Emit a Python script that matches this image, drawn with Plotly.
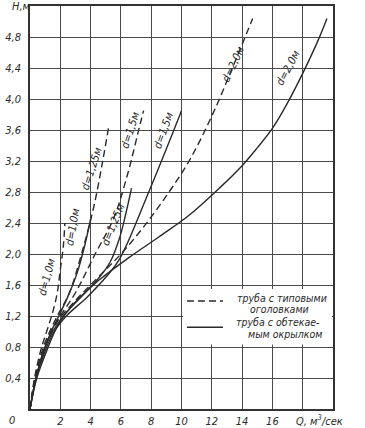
import plotly.graph_objects as go

# ---- data (Q, m3/s ; H, m) ----
d10_dash_Q = [0, 0.3, 0.7, 1.1, 1.5, 1.8, 2.0, 2.2, 2.3]
d10_dash_H = [0, 0.4, 0.75, 1.0, 1.25, 1.5, 1.8, 2.1, 2.4]
d10_sol_Q = [0, 0.4, 0.9, 1.4, 1.9, 2.5, 3.1, 3.6, 4.0]
d10_sol_H = [0, 0.4, 0.75, 1.0, 1.2, 1.45, 1.75, 2.1, 2.45]
d125_dash_Q = [0, 0.35, 0.8, 1.3, 1.8, 2.6, 3.4, 4.2, 4.8, 5.2]
d125_dash_H = [0, 0.4, 0.75, 1.0, 1.2, 1.5, 2.0, 2.6, 3.2, 3.65]
d125_sol_Q = [0, 0.4, 0.9, 1.5, 2.2, 3.4, 4.5, 5.3, 5.9, 6.3, 6.7]
d125_sol_H = [0, 0.4, 0.75, 1.0, 1.2, 1.45, 1.68, 1.9, 2.2, 2.5, 2.85]
d15_dash_Q = [0, 0.35, 0.9, 1.4, 2.0, 3.0, 4.3, 5.5, 6.4, 7.3, 7.5]
d15_dash_H = [0, 0.4, 0.75, 1.0, 1.2, 1.5, 2.0, 2.45, 3.0, 3.7, 3.85]
d15_sol_Q = [0, 0.4, 1.0, 1.6, 2.4, 3.8, 5.0, 5.9, 7.9, 9.7, 10.0]
d15_sol_H = [0, 0.4, 0.75, 1.0, 1.2, 1.45, 1.7, 1.93, 2.83, 3.7, 3.85]
d20_dash_Q = [0, 0.4, 1.0, 1.7, 3.0, 4.5, 6.0, 7.5, 9.0, 10.5, 12.0, 13.4, 14.7]
d20_dash_H = [0, 0.45, 0.8, 1.1, 1.4, 1.7, 2.0, 2.35, 2.75, 3.2, 3.78, 4.42, 5.04]
d20_sol_Q = [0, 0.45, 1.1, 1.9, 3.0, 4.6, 6.5, 8.5, 10.5, 12.5, 14, 15, 16, 17, 18, 19, 19.6]
d20_sol_H = [0, 0.4, 0.75, 1.1, 1.38, 1.67, 1.95, 2.22, 2.5, 2.85, 3.14, 3.37, 3.62, 3.95, 4.33, 4.75, 5.04]

x_ticks = [2, 4, 6, 8, 10, 12, 14, 16]
x_minor_grid = [18]
y_ticks = [0.4, 0.8, 1.2, 1.6, 2.0, 2.4, 2.8, 3.2, 3.6, 4.0, 4.4, 4.8]

# curve labels: text, Q, H, angle
labels_text = ["d=1,0м", "d=1,0м", "d=1,25м", "d=1,25м", "d=1,5м", "d=1,5м", "d=2,0м", "d=2,0м"]
labels_Q = [1.1, 2.85, 4.1, 5.5, 6.6, 8.8, 13.4, 17.0]
labels_H = [1.7, 2.35, 3.1, 2.38, 3.6, 3.6, 4.45, 4.4]
labels_ang = [-75, -80, -72, -68, -72, -70, -65, -62]

legend_dash_lines = ["труба с типовыми", "оголовками"]
legend_solid_lines = ["труба с обтекае-", "мым окрылком"]

FONT = "DejaVu Sans Condensed, Liberation Sans Narrow, Arial Narrow, sans-serif"
INK = "#2a2a2a"
GRID = "#4a4a4a"

fig = go.Figure()
series = [
    (d10_dash_Q, d10_dash_H, "dash"),
    (d10_sol_Q, d10_sol_H, "solid"),
    (d125_dash_Q, d125_dash_H, "dash"),
    (d125_sol_Q, d125_sol_H, "solid"),
    (d15_dash_Q, d15_dash_H, "dash"),
    (d15_sol_Q, d15_sol_H, "solid"),
    (d20_dash_Q, d20_dash_H, "dash"),
    (d20_sol_Q, d20_sol_H, "solid"),
]
for q, h, dash in series:
    fig.add_trace(go.Scatter(
        x=q, y=h, mode="lines", showlegend=False,
        line=dict(color=INK, width=1.4, dash="7px,4px" if dash == "dash" else "solid",
                  shape="spline", smoothing=1.0),
        hoverinfo="skip"))

for t, q, h, a in zip(labels_text, labels_Q, labels_H, labels_ang):
    fig.add_annotation(x=q, y=h, text="<i>" + t + "</i>", showarrow=False,
                       textangle=a, font=dict(family=FONT, size=11, color=INK))

# manual legend (white box over grid)
fig.add_shape(type="rect", xref="paper", yref="paper", x0=0.505, x1=0.996, y0=0.160, y1=0.298,
              fillcolor="white", line=dict(width=0), layer="above")
fig.add_shape(type="line", xref="paper", yref="paper", x0=0.518, x1=0.637, y0=0.268, y1=0.268,
              line=dict(color=INK, width=1.4, dash="7px,4px"), layer="above")
fig.add_shape(type="line", xref="paper", yref="paper", x0=0.518, x1=0.637, y0=0.203, y1=0.203,
              line=dict(color=INK, width=1.4), layer="above")
leg_txt = [(legend_dash_lines[0], 0.832, 0.275), (legend_dash_lines[1], 0.825, 0.248),
           (legend_solid_lines[0], 0.818, 0.216), (legend_solid_lines[1], 0.842, 0.186)]
for t, xx, yy in leg_txt:
    fig.add_annotation(x=xx, y=yy, xref="paper", yref="paper", text="<i>" + t + "</i>",
                       xanchor="center", yanchor="middle",
                       showarrow=False, font=dict(family=FONT, size=10.5, color=INK))

fig.add_annotation(x=0, y=0, xref="x", yref="y", text="<i>0</i>", showarrow=False,
                   xanchor="center", yanchor="middle",
                   xshift=-18, yshift=-11, font=dict(family=FONT, size=11, color=INK))
fig.add_annotation(x=0, y=1, xref="paper", yref="paper", text="<i>H,м</i>", showarrow=False,
                   xanchor="right", yanchor="middle", xshift=3, yshift=0,
                   font=dict(family=FONT, size=11, color=INK))
fig.add_annotation(x=19.1, y=0, xref="x", yref="y", text="<i>Q, м<sup>3</sup>/сек</i>", showarrow=False,
                   xanchor="center", yanchor="top", yshift=-2, font=dict(family=FONT, size=11, color=INK))

fig.update_layout(
    template="none",
    width=365, height=428,
    margin=dict(l=30, r=32, t=6, b=19, autoexpand=False),
    paper_bgcolor="white", plot_bgcolor="white",
    font=dict(family=FONT, size=11, color=INK),
    showlegend=False,
    xaxis=dict(range=[0, 20], tickmode="array", tickvals=x_ticks,
               ticktext=["<i>%d</i>" % v for v in x_ticks],
               showgrid=True, gridcolor=GRID, gridwidth=1.2,
               minor=dict(tickmode="array", tickvals=x_minor_grid, showgrid=True,
                          gridcolor=GRID, gridwidth=1.2, ticks=""),
               zeroline=False, showline=True, linecolor="#333", linewidth=1.5, mirror=True,
               ticks="outside", ticklen=1, tickcolor="rgba(0,0,0,0)",
               automargin=False, fixedrange=True),
    yaxis=dict(range=[0, 5.2], tickmode="array", tickvals=y_ticks,
               ticktext=["<i>" + ("%.1f" % v).replace(".", ",") + "</i>" for v in y_ticks],
               showgrid=True, gridcolor=GRID, gridwidth=1.2,
               zeroline=False, showline=True, linecolor="#333", linewidth=1.5, mirror=True,
               ticks="outside", ticklen=5, tickcolor="rgba(0,0,0,0)",
               automargin=False, fixedrange=True),
)

fig.write_html("out.html", config={"displayModeBar": False},
               post_script="document.body.style.margin='0px';document.body.style.overflow='hidden';")
